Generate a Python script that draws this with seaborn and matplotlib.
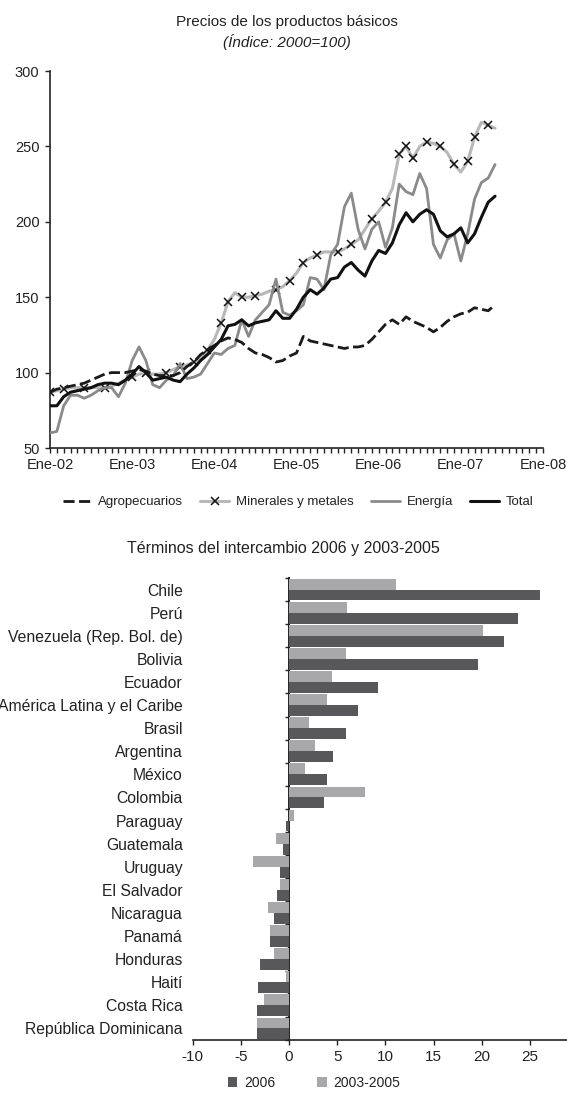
import numpy as np
import pandas as pd
import matplotlib
matplotlib.use("Agg")
import matplotlib.pyplot as plt
from matplotlib import font_manager
import seaborn as sns

# ---------------- data ----------------
year_labels = ["Ene-02", "Ene-03", "Ene-04", "Ene-05", "Ene-06", "Ene-07", "Ene-08"]

agropecuarios = [87, 89, 90, 91, 92, 93, 95, 97, 99, 100, 100, 100,
                 101, 102, 101, 99, 98, 98, 98, 100, 104, 107, 112, 115,
                 118, 121, 123, 122, 120, 116, 113, 112, 110, 107, 108, 111,
                 113, 124, 121, 120, 119, 118, 117, 116, 117, 117, 118, 122,
                 127, 132, 135, 132, 137, 134, 132, 130, 127, 130, 134, 137,
                 139, 140, 143, 142, 141, 145]
minerales = [87, 88, 89, 90, 90, 90, 90, 90, 90, 91, 93, 95,
             97, 99, 99.5, 99, 99, 100, 102, 104, 105, 107, 110, 115,
             122, 133, 147, 153, 150, 150, 151, 152, 154, 155, 157, 161,
             166, 173, 176, 178, 180, 180, 180, 182, 185, 188, 195, 202,
             207, 213, 222, 245, 250, 242, 250, 253, 252, 250, 246, 238,
             233, 240, 256, 266, 264, 262]
energia = [60, 61, 78, 85, 85, 83, 85, 88, 90, 90, 84, 93,
           108, 117, 108, 92, 90, 95, 98, 106, 96, 97, 99, 106,
           113, 112, 116, 118, 135, 124, 135, 140, 145, 162, 140, 138,
           141, 145, 163, 162, 155, 178, 185, 210, 219, 195, 182, 195,
           200, 183, 196, 225, 220, 218, 232, 222, 185, 176, 188, 192,
           174, 192, 215, 226, 229, 238]
total = [78, 78, 84, 87, 88, 89, 90, 92, 93, 93, 92, 95,
         99, 104, 100, 95, 96, 97, 95, 94, 99, 103, 108, 112,
         117, 122, 131, 132, 135, 131, 133, 134, 135, 141, 136, 136,
         142, 150, 155, 152, 156, 162, 163, 170, 173, 168, 164, 174,
         181, 179, 186, 198, 206, 200, 205, 208, 205, 194, 190, 192,
         196, 186, 192, 203, 213, 217]
months = list(range(len(total)))

paises = ["Chile", "Perú", "Venezuela (Rep. Bol. de)", "Bolivia", "Ecuador",
          "América Latina y el Caribe", "Brasil", "Argentina", "México",
          "Colombia", "Paraguay", "Guatemala", "Uruguay", "El Salvador",
          "Nicaragua", "Panamá", "Honduras", "Haití", "Costa Rica",
          "República Dominicana"]
v2006 = [26.0, 23.8, 22.3, 19.6, 9.2, 7.2, 5.9, 4.6, 3.9, 3.6,
         -0.3, -0.6, -0.9, -1.2, -1.6, -2.0, -3.0, -3.2, -3.3, -3.3]
v2003_2005 = [11.1, 6.0, 20.1, 5.9, 4.5, 3.9, 2.1, 2.7, 1.7, 7.9,
              0.5, -1.3, -3.7, -0.9, -2.2, -2.0, -1.6, -0.3, -2.6, -3.3]

# ---------------- style ----------------
sns.set_style("ticks")
names = {f.name for f in font_manager.fontManager.ttflist}
narrow = "Liberation Sans Narrow" if "Liberation Sans Narrow" in names else "Liberation Sans"
plt.rcParams["font.family"] = ["Liberation Sans", "DejaVu Sans"]
plt.rcParams["axes.unicode_minus"] = False
plt.rcParams["text.color"] = "#222222"
plt.rcParams["xtick.color"] = "#222222"
plt.rcParams["ytick.color"] = "#222222"

W, H = 567, 1093
fig = plt.figure(figsize=(W / 100, H / 100), dpi=100)

# ---------------- top chart ----------------
ax = fig.add_axes([50 / W, 1 - 448 / H, (543 - 50) / W, (448 - 71) / H])
df_top = pd.DataFrame({"mes": months, "Agropecuarios": agropecuarios,
                       "Minerales y metales": minerales, "Energía": energia,
                       "Total": total})

mark_idx = [0, 2, 5, 8, 12, 14, 17, 19, 21, 23, 25, 26, 28, 30, 33, 35, 37, 39,
            42, 44, 47, 49, 51, 52, 53, 55, 57, 59, 61, 62, 64]
sns.lineplot(data=df_top, x="mes", y="Minerales y metales", ax=ax, color="#b8b8b8",
             lw=2.2, marker="x", markersize=6, markeredgewidth=1.1,
             markeredgecolor="#111111", markevery=mark_idx,
             label="Minerales y metales", zorder=2)
sns.lineplot(data=df_top, x="mes", y="Energía", ax=ax, color="#8a8a8a", lw=2.0,
             label="Energía", zorder=3)
sns.lineplot(data=df_top, x="mes", y="Agropecuarios", ax=ax, color="#1a1a1a", lw=2.0,
             linestyle=(0, (4, 1.6)), label="Agropecuarios", zorder=4)
sns.lineplot(data=df_top, x="mes", y="Total", ax=ax, color="#111111", lw=2.2,
             label="Total", zorder=5)

ax.set_xlim(0, 72)
ax.set_ylim(50, 300)
ax.set_xticks(range(0, 73, 12))
ax.set_xticklabels(year_labels)
ax.set_xticks(range(0, 73), minor=True)
ax.set_yticks(range(50, 301, 50))
ax.set_xlabel("")
ax.set_ylabel("")
for s in ["top", "right"]:
    ax.spines[s].set_visible(False)
for s in ["left", "bottom"]:
    ax.spines[s].set_color("#222222")
    ax.spines[s].set_linewidth(1.2)
ax.tick_params(axis="both", which="both", direction="out", length=3.5, width=1.0,
               labelsize=10.5, pad=4)

h, l = ax.get_legend_handles_labels()
order = ["Agropecuarios", "Minerales y metales", "Energía", "Total"]
hh = [h[l.index(o)] for o in order]
ax.get_legend().remove()
fig.legend(hh, order, loc="center", bbox_to_anchor=(298 / W, 1 - 502 / H), ncol=4,
           frameon=False, handlelength=2.2, handletextpad=0.5,
           columnspacing=1.3, prop={"family": narrow, "size": 9.5})

fig.text(287 / W, 1 - 22 / H, "Precios de los productos básicos", ha="center",
         va="center", fontsize=11)
fig.text(287 / W, 1 - 42 / H, "(Índice: 2000=100)", ha="center", va="center",
         fontsize=11, style="italic")

# ---------------- bottom chart ----------------
bx = fig.add_axes([192.6 / W, 1 - 1040 / H, (W - 192.6) / W, (1040 - 578) / H])
df_bar = pd.DataFrame({
    "pais": paises * 2,
    "periodo": ["2006"] * len(paises) + ["2003-2005"] * len(paises),
    "valor": v2006 + v2003_2005,
})
sns.barplot(data=df_bar, y="pais", x="valor", hue="periodo",
            hue_order=["2003-2005", "2006"],
            palette={"2006": "#58585a", "2003-2005": "#a8a8aa"},
            orient="h", width=0.94, ax=bx, saturation=1, linewidth=0)
xmin, xmax = -10, (W - 192.6) / 9.64 - 10
bx.set_xlim(xmin, xmax)
bx.set_xticks(range(-10, 26, 5))
bx.set_xlabel("")
bx.set_ylabel("")
for s in ["top", "right", "left"]:
    bx.spines[s].set_visible(False)
bx.spines["bottom"].set_color("#222222")
bx.spines["bottom"].set_linewidth(1.2)
bx.tick_params(axis="x", direction="out", length=3.5, width=1.0, labelsize=11, pad=4)
bx.tick_params(axis="y", length=0, labelsize=11.3, pad=7)

sec = bx.secondary_yaxis((0 - xmin) / (xmax - xmin))
sec.set_yticks(np.arange(-0.5, len(paises), 1.0))
sec.set_yticklabels([])
sec.tick_params(axis="y", direction="out", length=3, width=1.0, color="#222222")
sec.spines["left"].set_color("#222222")
sec.spines["left"].set_linewidth(1.4)

bh, bl = bx.get_legend_handles_labels()
bx.get_legend().remove()
fig.legend([bh[bl.index("2006")], bh[bl.index("2003-2005")]], ["2006", "2003-2005"],
           loc="center", bbox_to_anchor=(314 / W, 1 - 1083 / H), ncol=2,
           frameon=False, handlelength=0.7, handleheight=0.7, handletextpad=0.5,
           columnspacing=3.0, prop={"family": narrow, "size": 10})

fig.text(283 / W, 1 - 549 / H, "Términos del intercambio 2006 y 2003-2005",
         ha="center", va="center", fontsize=11.5)

fig.savefig("out.png", dpi=100)
